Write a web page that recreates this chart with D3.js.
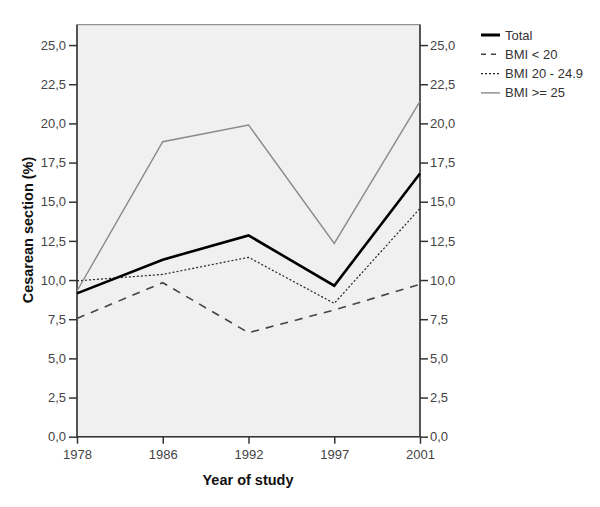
<!DOCTYPE html>
<html><head><meta charset="utf-8">
<script src="https://cdn.jsdelivr.net/npm/d3@7"></script>
<style>body{margin:0;background:#fff;} text{font-family:"Liberation Sans",Arial,sans-serif;}</style>
</head><body>
<svg id="c" width="600" height="507"></svg>
<script>
const years = ["1978","1986","1992","1997","2001"];
const total = [9.15, 11.3, 12.85, 9.64, 16.8];
const bmiLow = [7.55, 9.83, 6.64, 8.09, 9.73];
const bmiMid = [9.95, 10.36, 11.45, 8.51, 14.57];
const bmiHigh = [9.3, 18.83, 19.9, 12.34, 21.4];
const yTicks = [0, 2.5, 5, 7.5, 10, 12.5, 15, 17.5, 20, 22.5, 25];
const seriesNames = ["Total", "BMI < 20", "BMI 20 - 24.9", "BMI >= 25"];

const styles = [
  {stroke:"#000", width:2.6, dash:null},
  {stroke:"#444", width:1.6, dash:"8,7"},
  {stroke:"#222", width:1.2, dash:"2,2"},
  {stroke:"#8a8a8a", width:1.4, dash:null}
];
const seriesData = [total, bmiLow, bmiMid, bmiHigh];

const svg = d3.select("#c");
const L = 77, R = 420, T = 24.7, B = 436.7;
const x = d3.scalePoint().domain(years).range([L, R]);
const y = d3.scaleLinear().domain([0, 26.3]).range([B, T]);

svg.append("rect").attr("x", L).attr("y", T).attr("width", R-L).attr("height", B-T)
  .attr("fill", "#f0f0f0").attr("stroke", "#777").attr("stroke-width", 1);

const fmt = d => d3.format(".1f")(d).replace(".", ",");

const gl = svg.append("g").attr("transform", `translate(${L},0)`)
  .call(d3.axisLeft(y).tickValues(yTicks).tickFormat(fmt).tickSize(8).tickPadding(3));
const gr = svg.append("g").attr("transform", `translate(${R},0)`)
  .call(d3.axisRight(y).tickValues(yTicks).tickFormat(fmt).tickSize(8).tickPadding(2));
const gx = svg.append("g").attr("transform", `translate(0,${B})`)
  .call(d3.axisBottom(x).tickSize(7).tickPadding(6));
[gl, gr, gx].forEach(g => {
  g.select(".domain").attr("stroke", "#333").attr("stroke-width", 1.5);
  g.selectAll(".tick line").attr("stroke", "#333").attr("stroke-width", 1.5);
  g.selectAll(".tick text").attr("fill", "#444").style("font-size", "13px").style("font-family", "Liberation Sans, Arial, sans-serif");
});
gl.select(".domain").attr("d", `M0,${T}V${B}`);
gr.select(".domain").attr("d", `M0,${T}V${B}`);
gx.select(".domain").attr("d", `M${L},0H${R}`);

const line = d3.line().x((d, i) => x(years[i])).y(d => y(d));
seriesData.forEach((s, k) => {
  svg.append("path").datum(s).attr("d", line).attr("fill", "none")
    .attr("stroke", styles[k].stroke).attr("stroke-width", styles[k].width)
    .attr("stroke-dasharray", styles[k].dash);
});

// titles
svg.append("text").attr("x", 248).attr("y", 485).attr("text-anchor", "middle")
  .style("font-size", "14.5px").style("font-weight", "bold").attr("fill", "#111").text("Year of study");
svg.append("text").attr("transform", "translate(33,230) rotate(-90)").attr("text-anchor", "middle")
  .style("font-size", "14.5px").style("font-weight", "bold").attr("fill", "#111").text("Cesarean section (%)");

// legend
const lg = svg.append("g");
seriesNames.forEach((n, k) => {
  const yy = 35 + k * 19.3;
  lg.append("line").attr("x1", 481).attr("x2", 500).attr("y1", yy).attr("y2", yy)
    .attr("stroke", styles[k].stroke).attr("stroke-width", k === 0 ? 3 : styles[k].width)
    .attr("stroke-dasharray", k === 1 ? "5,5" : styles[k].dash);
  lg.append("text").attr("x", 505).attr("y", yy + 4.5).style("font-size", "13px")
    .attr("fill", "#333").text(n);
});
</script>
</body></html>
